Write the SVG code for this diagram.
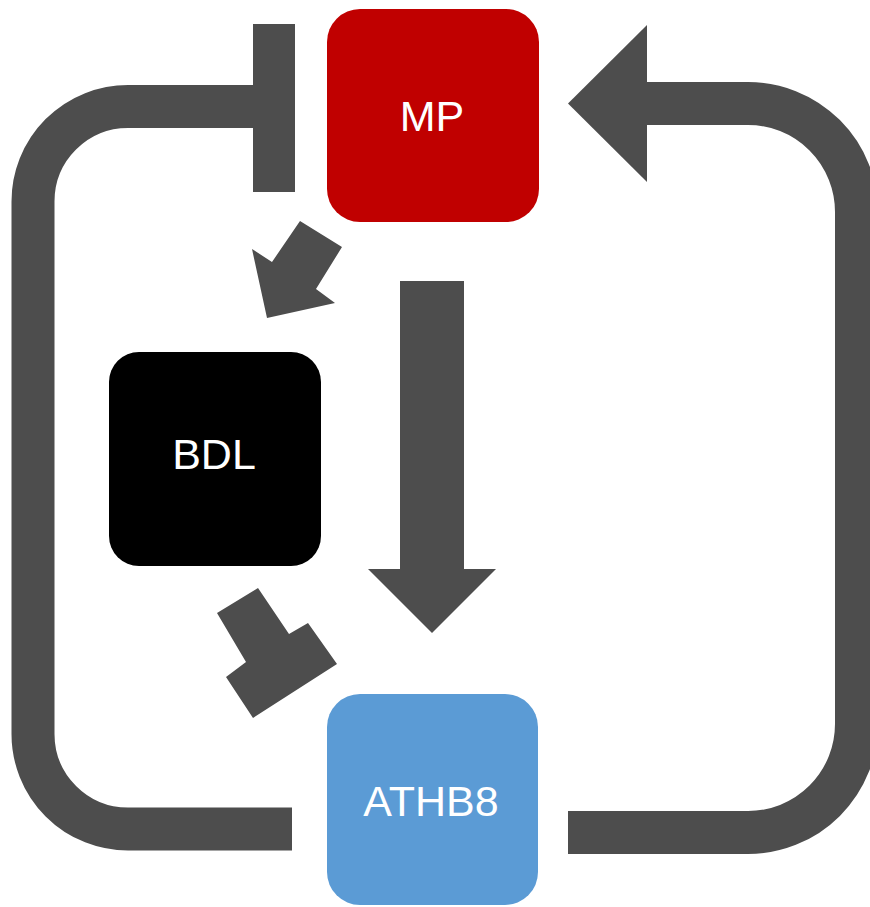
<svg xmlns="http://www.w3.org/2000/svg" width="870" height="907" viewBox="0 0 870 907">
  <style>
    .lbl { font-family: "Liberation Sans", Arial, sans-serif; font-size: 43px; fill: #ffffff; text-anchor: middle; }
    .line { fill: none; stroke: #4d4d4d; stroke-width: 43; }
    .shape { fill: #4d4d4d; }
  </style>
  <rect width="870" height="907" fill="#ffffff"/>
  <g id="connectors">
    <!-- ATHB8 inhibits MP (left loop) -->
    <path class="line" d="M 292 829 H 128 A 95 95 0 0 1 33 734 V 201.5 A 95 95 0 0 1 128 106.5 H 260"/>
    <rect class="shape" x="253" y="24" width="42" height="168"/>
    <!-- ATHB8 activates MP (right loop) -->
    <path class="line" d="M 568 832.5 H 748 A 108.5 108.5 0 0 0 856.5 724 V 212 A 108.5 108.5 0 0 0 748 103.5 H 640"/>
    <polygon class="shape" points="647,25 568,103.5 647,182"/>
    <!-- MP activates BDL -->
    <polygon class="shape" points="300,221 342,247 316,289 335,303 267,318 252,249 272,262"/>
    <!-- MP activates ATHB8 -->
    <polygon class="shape" points="400,281 464,281 464,569 496,569 432,633 368,569 400,569"/>
    <!-- BDL inhibits ATHB8 -->
    <polygon class="shape" points="217,613 258,588 289,634 308,623 337,664 253,718 226,677 246,662"/>
  </g>
  <g id="node-MP">
    <rect x="327" y="9" width="212" height="213" rx="33" fill="#c00000"/>
    <text class="lbl" x="432" y="131">MP</text>
  </g>
  <g id="node-BDL">
    <rect x="109" y="352" width="212" height="214" rx="30" fill="#000000"/>
    <text class="lbl" x="214" y="469">BDL</text>
  </g>
  <g id="node-ATHB8">
    <rect x="327" y="694" width="211" height="211" rx="33" fill="#5b9bd5"/>
    <text class="lbl" x="431" y="816">ATHB8</text>
  </g>
</svg>
